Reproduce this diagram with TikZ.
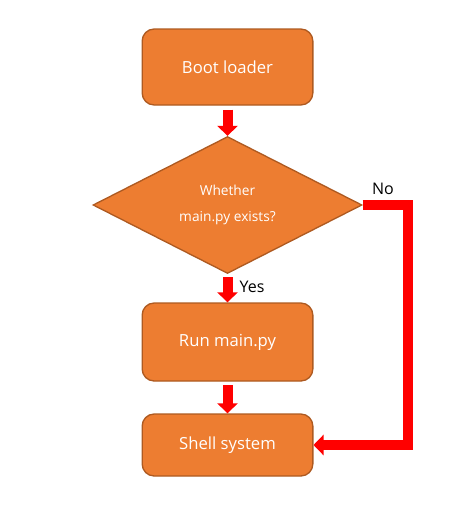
\documentclass[tikz,border=0pt]{standalone}
\usepackage{fontspec}
\setmainfont{Open Sans}
\usetikzlibrary{shapes.geometric,arrows.meta}
\definecolor{boxorange}{HTML}{ED7D31}
\definecolor{boxedge}{HTML}{AE5A21}
\tikzset{
	box/.style={draw=boxedge, fill=boxorange, line width=1pt, rounded corners=9pt, minimum width=128pt, text=white, font=\fontsize{12.5}{15}\selectfont},
	decision/.style={diamond, draw=boxedge, fill=boxorange, line width=1pt, minimum width=201.75pt, minimum height=100.5pt, inner sep=0pt, text=white, align=center, font=\fontsize{10.3}{20}\selectfont},
	flow/.style={red, line width=7.5pt, line join=miter, -{Triangle[width=15pt,length=7.5pt]}},
	answer/.style={font=\fontsize{12}{14}\selectfont},
}
\begin{document}
\begin{tikzpicture}[x=0.75pt, y=-0.75pt]
		\useasboundingbox (0,0) rectangle (469,507);
		\node[box, minimum height=57pt] (boot) at (227.5,67) {Boot loader};
		\node[decision] (exists) at (227.5,205) {Whether\\main.py exists?};
		\node[box, minimum height=58.5pt] (run) at (227.5,342) {Run main.py};
		\node[box, minimum height=46.5pt] (shell) at (227.5,445) {Shell system};
		\coordinate (turn) at (407.5,445);
		\draw[flow, shorten <=3pt] (boot) -- (exists);
		\draw[flow, shorten <=2.5pt] (exists) -- (run) node [answer, pos=0.45, right=2pt, black] (yes) {Yes};
		\draw[flow, shorten <=2.5pt] (run) -- (shell);
		\draw[flow] (exists.east) -| (turn) -- (shell.east);
		\node[answer] (no) at (383,189) {No};
	\end{tikzpicture}
\end{document}
